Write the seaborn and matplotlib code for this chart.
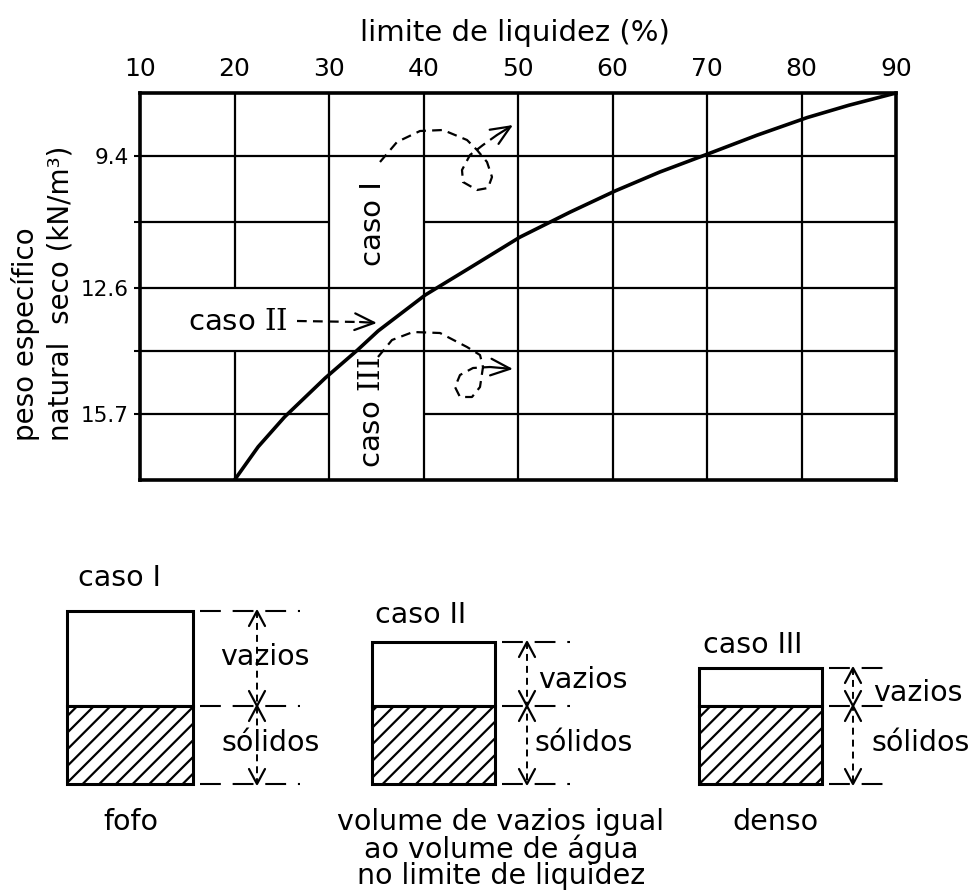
import matplotlib
matplotlib.use("Agg")
import matplotlib.pyplot as plt
import seaborn as sns
import pandas as pd
from matplotlib.patches import Rectangle

# ---------------- data ----------------
limite_liquidez = [20, 22.5, 25.3, 29.6, 33.0, 35.2, 40.2, 44.9, 50.2, 55.5,
                   60.3, 65.0, 70.3, 75.3, 80.6, 85.0, 90]
peso_especifico = [17.3, 16.49, 15.76, 14.81, 14.13, 13.66, 12.78, 12.12, 11.37, 10.76,
                   10.24, 9.78, 9.32, 8.88, 8.45, 8.15, 7.85]

x_ticks = [10, 20, 30, 40, 50, 60, 70, 80, 90]
x_ticklabels = ["10", "20", "30", "40", "50", "60", "70", "80", "90"]
y_grid = [9.4, 11.0, 12.6, 14.15, 15.7]
y_ticklabels = ["9.4", "", "12.6", "", "15.7"]
x_lim = (10, 90)
y_lim = (17.3, 7.85)

# grid segments (gaps leave room for the "caso" labels)
h_grid_spans = {9.4: [(10, 90)], 11.0: [(10, 30), (40, 90)], 12.6: [(10, 90)],
                14.15: [(10, 90)], 15.7: [(10, 30), (40, 90)]}
v_grid_spans = {20: [(7.85, 12.6), (14.15, 17.3)], 30: [(7.85, 17.3)], 40: [(7.85, 17.3)],
                50: [(7.85, 17.3)], 60: [(7.85, 17.3)], 70: [(7.85, 17.3)], 80: [(7.85, 17.3)]}

title_x = "limite de liquidez (%)"
title_y = "peso específico\nnatural  seco (kN/m³)"

# schematic of the three cases
cases = ["caso I", "caso II", "caso III"]
captions = ["fofo", "volume de vazios igual\nao volume de água\nno limite de liquidez", "denso"]

# ---------------- style ----------------
sns.set_theme(style="white", rc={"axes.edgecolor": "black", "text.color": "black",
                                 "xtick.color": "black", "ytick.color": "black",
                                 "axes.labelcolor": "black"})
plt.rcParams["font.family"] = ["DejaVu Sans"]
plt.rcParams["mathtext.fontset"] = "dejavuserif"
plt.rcParams["lines.scale_dashes"] = False
plt.rcParams["hatch.linewidth"] = 1.6
plt.rcParams["hatch.color"] = "black"

W, H = 979, 896
fig = plt.figure(figsize=(W / 100, H / 100), dpi=100)
fig.patch.set_facecolor("white")

# ---------------- main chart ----------------
ax = fig.add_axes([140 / W, 1 - 480 / H, 756 / W, 387 / H])
df = pd.DataFrame({"ll": limite_liquidez, "gamma": peso_especifico})
sns.lineplot(data=df, x="ll", y="gamma", ax=ax, color="black", lw=2.6, sort=False, zorder=3)
ax.set_xlim(*x_lim)
ax.set_ylim(*y_lim)

for yv, spans in h_grid_spans.items():
    for a, b in spans:
        ax.hlines(yv, a, b, color="black", lw=1.6, zorder=1)
for xv, spans in v_grid_spans.items():
    for a, b in spans:
        ax.vlines(xv, a, b, color="black", lw=1.6, zorder=1)

ax.xaxis.tick_top()
ax.set_xticks(x_ticks)
ax.set_xticklabels(x_ticklabels)
ax.set_yticks(y_grid)
ax.set_yticklabels(y_ticklabels)
ax.tick_params(axis="x", length=0, pad=9, labelsize=18, top=True, bottom=False,
               labeltop=True, labelbottom=False)
ax.tick_params(axis="y", length=4, width=1.5, pad=4, labelsize=15.5, left=True, direction="out")
for s in ax.spines.values():
    s.set_linewidth(2.6)
    s.set_color("black")

ax.set_xlabel(title_x, fontsize=21)
ax.xaxis.set_label_position("top")
ax.xaxis.set_label_coords(0.496, 1.135)
ax.set_ylabel(title_y, fontsize=20, ha="left", va="center", multialignment="left",
              linespacing=1.3)
ax.yaxis.set_label_coords(-0.129, 0.10)

ax.text(34.7, 11.05, "caso I", rotation=90, ha="center", va="center", fontsize=21)
ax.text(20.3, 13.44, r"caso $\mathrm{II}$", ha="center", va="center", fontsize=21)
ax.text(34.6, 15.65, r"caso $\mathrm{III}$", rotation=90, ha="center", va="center", fontsize=21)

# ---------------- overlay in pixel coordinates ----------------
ov = fig.add_axes([0, 0, 1, 1], facecolor="none")
ov.set_xlim(0, W)
ov.set_ylim(H, 0)
ov.axis("off")

dash_arrow = (0, (7, 4.5))
path_caso1 = [(380, 162), (397, 142), (420, 131), (443, 130), (467, 140), (477, 150), (487, 162),
              (492, 177), (488, 188), (477, 190), (463, 182), (462, 170), (470, 155), (483, 145),
              (497, 135)]
path_caso3 = [(378, 357), (392, 340), (413, 332), (440, 333), (467, 347), (480, 355), (483, 367),
              (480, 387), (472, 397), (460, 397), (455, 387), (460, 375), (473, 368), (490, 367)]
path_caso2 = [(297, 321), (360, 322)]
for path, tip in [(path_caso1, (513, 125)), (path_caso3, (513, 369)), (path_caso2, (377, 323))]:
    xs = [p[0] for p in path]
    ys = [p[1] for p in path]
    ov.plot(xs, ys, color="black", lw=1.6, linestyle=dash_arrow)
    ov.annotate("", xy=tip, xytext=path[-1],
                arrowprops=dict(arrowstyle="->,head_length=0.7,head_width=0.3",
                                color="black", lw=1.6, mutation_scale=20,
                                shrinkA=0, shrinkB=0))

# boxes
box_left = [67, 372, 699]
box_right = [193, 495, 822]
box_top = [611, 642, 668]
solid_top = 706
box_bottom = 784
dash_end = [300, 570, 888]
dim_x = [257, 527, 853]
case_title_pos = [(78, 578), (375, 615), (703, 645)]
vazios_pos = [(220, 657), (538, 680), (873, 693)]
solidos_pos = [(222, 743), (535, 743), (872, 743)]
caption_pos = [(131, 823), (501, 823), (775, 823)]

ext_dash = (0, (15, 8.5))
dim_dash = (0, (5, 3.6))
fs_txt = 20.5
for i in range(3):
    L, R, T = box_left[i], box_right[i], box_top[i]
    ov.add_patch(Rectangle((L, T), R - L, solid_top - T, facecolor="white",
                           edgecolor="black", lw=2.2))
    ov.add_patch(Rectangle((L, solid_top), R - L, box_bottom - solid_top, facecolor="white",
                           edgecolor="black", lw=2.2, hatch="//"))
    for yy in (T, solid_top, box_bottom):
        ov.plot([R + 7, dash_end[i]], [yy, yy], color="black", lw=1.5, linestyle=ext_dash)
    dx = dim_x[i]
    ov.plot([dx, dx], [T, box_bottom], color="black", lw=1.4, linestyle=dim_dash)
    for tip_y, d in [(T, 1), (solid_top, -1), (solid_top, 1), (box_bottom, -1)]:
        ov.plot([dx - 8, dx, dx + 8], [tip_y + d * 15, tip_y, tip_y + d * 15],
                color="black", lw=1.6)
    tx, ty = case_title_pos[i]
    ov.text(tx, ty, cases[i], ha="left", va="center", fontsize=fs_txt)
    vx, vy = vazios_pos[i]
    ov.text(vx, vy, "vazios", ha="left", va="center", fontsize=fs_txt)
    sx, sy = solidos_pos[i]
    ov.text(sx, sy, "sólidos", ha="left", va="center", fontsize=fs_txt)
    cx, cy = caption_pos[i]
    ov.text(cx, cy - 15, captions[i], ha="center", va="top", fontsize=fs_txt,
            linespacing=0.93, multialignment="center")

fig.savefig("out.png", dpi=100, facecolor="white")
